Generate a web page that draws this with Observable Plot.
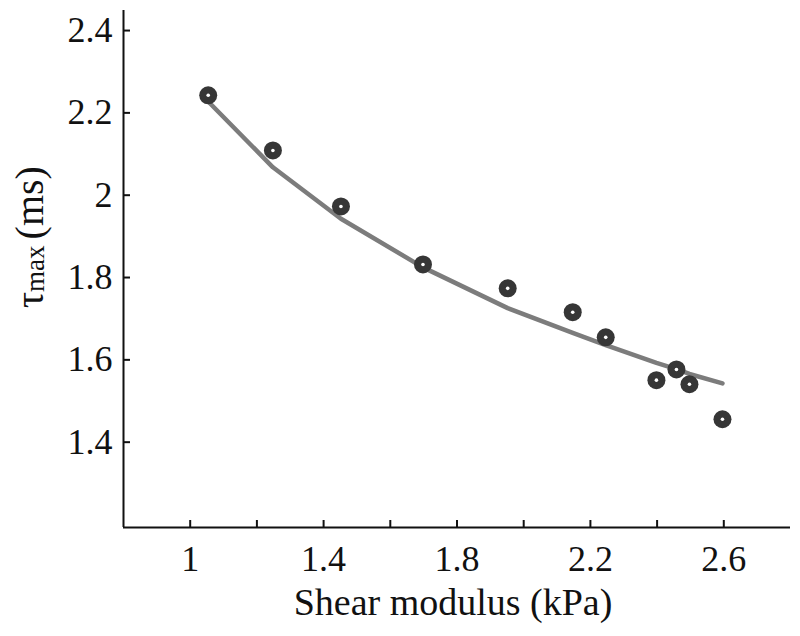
<!DOCTYPE html>
<html>
<head>
<meta charset="utf-8">
<script src="https://cdn.jsdelivr.net/npm/d3@7"></script>
<script src="https://cdn.jsdelivr.net/npm/@observablehq/plot@0.6"></script>
<style>
  html, body { margin: 0; padding: 0; background: #fff; }
  #chart svg { display: block; }
</style>
</head>
<body>
<div id="chart"></div>
<script>
// Measured points
const shear = [1.054, 1.248, 1.452, 1.698, 1.952, 2.147, 2.246, 2.398, 2.458, 2.497, 2.596];
const tau   = [2.250, 2.116, 1.980, 1.839, 1.781, 1.723, 1.662, 1.558, 1.584, 1.548, 1.463];
// Fitted curve evaluated at the same shear values
const fit   = [2.235, 2.075, 1.950, 1.832, 1.733, 1.673, 1.643, 1.600, 1.585, 1.573, 1.550];

const xDomain = [0.8, 2.8];
const yDomain = [1.2, 2.456];
const xTicks = [1.0, 1.2, 1.4, 1.6, 1.8, 2.0, 2.2, 2.4, 2.6];
const xLabeled = [1.0, 1.4, 1.8, 2.2, 2.6];
const yTicks = [1.4, 1.6, 1.8, 2.0, 2.2, 2.4];
const xLabel = "Shear modulus (kPa)";

const points = shear.map((s, i) => ({shear: s, tau: tau[i]}));
const curve = shear.map((s, i) => ({shear: s, fit: fit[i]}));

const fmt = d => (Math.round(d * 10) / 10).toString();

const plot = Plot.plot({
  width: 800,
  height: 636,
  marginLeft: 123,
  marginRight: 10,
  marginTop: 10,
  marginBottom: 109,
  style: {fontFamily: "'Liberation Serif', 'Times New Roman', serif", fontSize: "36px", background: "#fff", color: "#111"},
  x: {domain: xDomain},
  y: {domain: yDomain},
  marks: [
    Plot.axisX({
      ticks: xTicks, tickSize: -7, tickPadding: 25, strokeWidth: 2,
      tickFormat: d => xLabeled.some(v => Math.abs(v - d) < 1e-9) ? fmt(d) : "",
      label: null, fontSize: 36
    }),
    Plot.axisY({
      ticks: yTicks, tickSize: -7, tickPadding: 18, strokeWidth: 2,
      tickFormat: fmt, label: null, fontSize: 36, dy: -3
    }),
    Plot.ruleX([xDomain[0]], {stroke: "#111", strokeWidth: 2}),
    Plot.ruleY([yDomain[0]], {stroke: "#111", strokeWidth: 2}),
    Plot.line(curve, {x: "shear", y: "fit", stroke: "#7c7c7c", strokeWidth: 4.5, curve: "linear"}),
    Plot.dot(points, {x: "shear", y: "tau", r: 9, fill: "#363636", stroke: "none"}),
    Plot.dot(points, {x: "shear", y: "tau", r: 1.8, fill: "#ffffff", stroke: "none"})
  ]
});

const svg = d3.select(plot);
// x-axis title
svg.append("text")
  .attr("x", 453).attr("y", 615)
  .attr("text-anchor", "middle")
  .attr("font-size", 38)
  .attr("fill", "#111")
  .text(xLabel);

// y-axis title with subscript
const yl = svg.append("text")
  .attr("transform", "translate(43,308) rotate(-90)")
  .attr("text-anchor", "start")
  .attr("fill", "#111");
yl.append("tspan").attr("font-size", 40).text("τ");
yl.append("tspan").attr("font-size", 27).attr("dy", 1).text("max");
yl.append("tspan").attr("font-size", 40).attr("dy", -1).attr("dx", 6).text("(ms)");

document.getElementById("chart").appendChild(plot);
</script>
</body>
</html>
